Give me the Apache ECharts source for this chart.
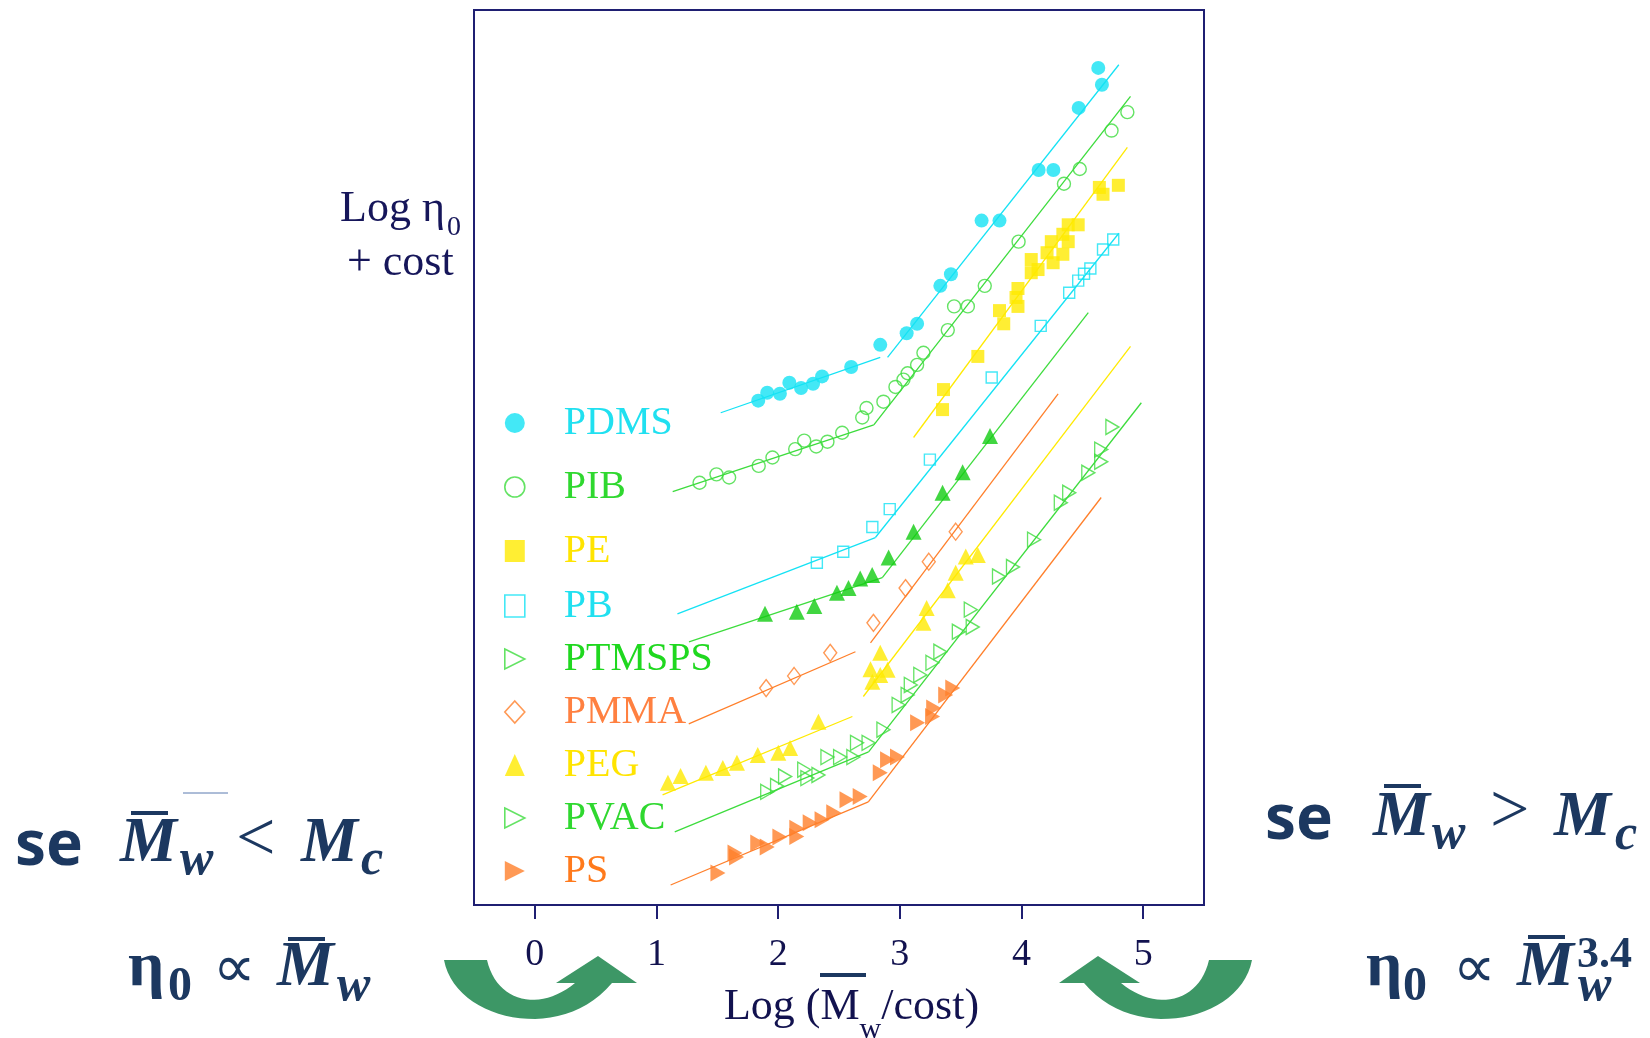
<!DOCTYPE html>
<html>
<head>
<meta charset="utf-8">
<title>Log η0 – Log Mw</title>
<script src="https://cdn.jsdelivr.net/npm/echarts@6/dist/echarts.min.js"></script>
<style>
  html, body { margin: 0; padding: 0; background: #fff; }
  #chart { width: 1650px; height: 1038px; }
</style>
</head>
<body>
<div id="chart"></div>
<script>
// values: x = Log(Mw/cost), y = Log eta0 + cost (arbitrary units)
const polymers = ['PDMS', 'PIB', 'PE', 'PB', 'PTMSPS', 'PMMA', 'PEG', 'PVAC', 'PS'];
const xTicks = [0, 1, 2, 3, 4, 5];

const pdmsPoints = [[1.836,47.9],[1.910,48.65],[2.014,48.55],[2.092,49.6],[2.188,49.1],[2.287,49.5],[2.361,50.2],[2.600,51.1],[2.839,53.2],[3.056,54.3],[3.142,55.2],[3.333,58.8],[3.420,59.9],[3.672,65.0],[3.819,65.0],[4.141,69.8],[4.262,69.8],[4.470,75.7],[4.631,79.5],[4.661,77.9]];
const pibPoints = [[1.354,40.1],[1.493,40.9],[1.597,40.6],[1.840,41.7],[1.953,42.5],[2.140,43.3],[2.214,44.1],[2.313,43.55],[2.405,44.0],[2.526,44.85],[2.691,46.3],[2.726,47.2],[2.865,47.8],[2.964,49.2],[3.030,49.9],[3.064,50.5],[3.142,51.3],[3.194,52.45],[3.394,54.6],[3.446,56.85],[3.559,56.85],[3.698,58.8],[3.976,63.0],[4.349,68.5],[4.479,69.9],[4.740,73.55],[4.870,75.3]];
const pePoints = [[3.351,47.05],[3.359,48.95],[3.641,52.1],[3.819,56.45],[3.854,55.2],[3.955,57.7],[3.971,58.55],[3.971,56.85],[4.080,61.3],[4.080,60.05],[4.136,60.35],[4.210,61.95],[4.245,63.0],[4.260,61.0],[4.340,63.7],[4.340,61.8],[4.384,63.0],[4.384,64.6],[4.466,64.6],[4.640,68.15],[4.670,67.5],[4.796,68.35]];
const pbPoints = [[2.318,32.5],[2.535,33.55],[2.774,35.9],[2.917,37.6],[3.247,42.3],[3.755,50.1],[4.158,55.0],[4.392,58.15],[4.466,59.3],[4.514,59.95],[4.566,60.45],[4.670,62.25],[4.754,63.2]];
const ptmspsPoints = [[1.892,27.65],[2.153,27.85],[2.297,28.4],[2.483,29.65],[2.578,30.1],[2.674,31.0],[2.773,31.35],[2.908,33.0],[3.113,35.45],[3.351,39.15],[3.516,41.1],[3.741,44.55]];
const pmmaPoints = [[1.901,20.6],[2.131,21.75],[2.428,23.95],[2.783,26.8],[3.047,30.1],[3.238,32.6],[3.459,35.45]];
const pegPoints = [[1.094,11.6],[1.198,12.25],[1.406,12.55],[1.545,13.0],[1.661,13.5],[1.832,14.25],[2.001,14.45],[2.098,14.9],[2.331,17.4],[2.774,21.2],[2.759,22.4],[2.839,21.85],[2.899,22.35],[2.839,23.95],[3.194,26.8],[3.220,28.2],[3.394,29.9],[3.459,31.55],[3.542,33.1],[3.641,33.25]];
const pvacPoints = [[1.910,10.75],[1.991,11.3],[2.057,12.2],[2.214,12.85],[2.240,12.05],[2.331,12.35],[2.405,14.05],[2.509,14.05],[2.618,14.05],[2.648,15.4],[2.743,15.4],[2.865,16.65],[2.990,19.0],[3.064,19.95],[3.090,20.9],[3.168,21.85],[3.268,23.0],[3.333,24.05],[3.485,25.95],[3.599,26.4],[3.583,28.05],[3.815,31.2],[3.930,32.1],[4.103,34.7],[4.323,38.2],[4.392,39.15],[4.549,41.05],[4.655,42.1],[4.655,43.25],[4.747,45.4]];
const psPoints = [[1.505,3.05],[1.645,4.95],[1.658,4.55],[1.832,5.9],[1.910,5.5],[2.014,6.45],[2.153,7.3],[2.153,6.5],[2.263,7.8],[2.361,8.1],[2.457,8.75],[2.566,10.0],[2.674,10.3],[2.839,12.55],[2.899,13.8],[2.981,14.05],[3.146,17.3],[3.269,17.9],[3.278,18.7],[3.377,19.95],[3.435,20.6]];

// fitted straight segments (below / above Mc)
const pdmsFit = [[[1.528,46.75],[2.839,52.0]], [[2.899,52.0],[4.800,79.8]]];
const pibFit = [[[1.133,39.25],[2.786,45.6]], [[2.786,45.6],[4.896,76.8]]];
const peFit = [[[3.113,44.4],[4.870,71.95]]];
const pbFit = [[[1.172,27.65],[2.799,34.9]], [[2.799,34.9],[4.800,63.8]]];
const ptmspsFit = [[[1.267,25.0],[2.856,31.1]], [[2.856,31.1],[4.549,56.25]]];
const pmmaFit = [[[1.265,17.2],[2.635,24.05]], [[2.759,24.9],[4.301,48.55]]];
const pegFit = [[[1.050,10.45],[2.610,17.9]], [[2.700,19.8],[4.896,53.05]]];
const pvacFit = [[[1.150,6.95],[2.743,14.55]], [[2.743,14.55],[4.985,47.7]]];
const psFit = [[[1.116,1.9],[2.741,9.8]], [[2.741,9.8],[4.655,38.7]]];

const points = {PDMS: pdmsPoints, PIB: pibPoints, PE: pePoints, PB: pbPoints, PTMSPS: ptmspsPoints,
  PMMA: pmmaPoints, PEG: pegPoints, PVAC: pvacPoints, PS: psPoints};
const fits = {PDMS: pdmsFit, PIB: pibFit, PE: peFit, PB: pbFit, PTMSPS: ptmspsFit,
  PMMA: pmmaFit, PEG: pegFit, PVAC: pvacFit, PS: psFit};

const rightTri = 'path://M0,0L10,5L0,10Z';
const cyan = '#14e2f4', green = '#3ddc3d', deepGreen = '#12cc12', yellow = '#ffea00', orange = '#ff7f2a';
const looks = {
  PDMS:   {color: cyan, symbol: 'circle', size: 14, fill: true},
  PIB:    {color: green, symbol: 'circle', size: 13, fill: false},
  PE:     {color: yellow, symbol: 'rect', size: 13, fill: true},
  PB:     {color: cyan, symbol: 'rect', size: 11, fill: false},
  PTMSPS: {color: deepGreen, symbol: 'triangle', size: 16, fill: true, line: green,
           legendIcon: rightTri, legendFill: false, legendColor: green},
  PMMA:   {color: orange, symbol: 'diamond', size: [13, 17], fill: false},
  PEG:    {color: yellow, symbol: 'triangle', size: 16, fill: true},
  PVAC:   {color: green, symbol: rightTri, size: [13, 15], fill: false},
  PS:     {color: orange, symbol: rightTri, size: [15, 17], fill: true}
};
const textColors = {PDMS: '#20e0f0', PIB: '#2fd82f', PE: '#ffe400', PB: '#20e0f0', PTMSPS: '#1fd81f',
  PMMA: '#ff8040', PEG: '#ffe400', PVAC: '#2fd82f', PS: '#ff7a1c'};

const navy = '#1f1f72';
const ink = '#1c3860';
const serif = '"Liberation Serif", "Times New Roman", serif';

const series = [];
polymers.forEach(name => {
  const lk = looks[name];
  fits[name].forEach((seg, i) => {
    series.push({
      type: 'line', name: name + ' fit ' + i, data: seg, symbol: 'none', silent: true, z: 2,
      lineStyle: {color: lk.line || lk.color, width: 1.3}
    });
  });
  series.push({
    type: 'scatter', name: name, data: points[name], symbol: lk.symbol, symbolSize: lk.size, z: 3,
    itemStyle: lk.fill ? {color: lk.color} : {color: 'rgba(255,255,255,0)', borderColor: lk.color, borderWidth: 1.4}
  });
});

const legendItems = polymers.map(name => {
  const lk = looks[name];
  const fill = lk.legendFill !== undefined ? lk.legendFill : lk.fill;
  const col = lk.legendColor || lk.color;
  return {
    name: name,
    icon: lk.legendIcon || lk.symbol,
    itemStyle: fill ? {color: col, borderWidth: 0} : {color: '#ffffff', borderColor: col, borderWidth: 1.6},
    textStyle: {color: textColors[name]}
  };
});
const legendBase = {
  orient: 'vertical', left: 499, itemWidth: 20, itemHeight: 22, selectedMode: false,
  textStyle: {fontFamily: serif, fontSize: 40, lineHeight: 40, padding: [0, 0, 0, 34]}
};

// annotation helpers (slide text around the chart)
function tx(text, x, y, size, opts) {
  opts = opts || {};
  return {
    type: 'text', x: x, y: y, z: 10, silent: true,
    style: {
      text: text, fill: opts.fill || ink, fontSize: size,
      fontFamily: opts.family || serif, fontWeight: opts.weight || 'bold',
      fontStyle: opts.italic ? 'italic' : 'normal',
      align: 'left', verticalAlign: 'middle'
    }
  };
}
function bar(x, y, w) {
  return {type: 'rect', z: 10, silent: true, shape: {x: x, y: y, width: w, height: 4}, style: {fill: ink}};
}
function bez(p0, p1, p2, p3, n) {
  const out = [];
  for (let i = 0; i <= n; i++) {
    const t = i / n, u = 1 - t;
    out.push([
      u*u*u*p0[0] + 3*u*u*t*p1[0] + 3*u*t*t*p2[0] + t*t*t*p3[0],
      u*u*u*p0[1] + 3*u*u*t*p1[1] + 3*u*t*t*p2[1] + t*t*t*p3[1]
    ]);
  }
  return out;
}
const arrowLeft = [].concat(
  [[444, 960]],
  bez([487, 960], [497, 1003], [540, 1012], [575, 983], 24),
  [[556, 983], [598, 956], [637, 983], [612, 983]],
  bez([612, 983], [560, 1045], [455, 1020], [444, 960], 28)
);
const arrowRight = arrowLeft.map(p => [1696 - p[0], p[1]]);

const sans = '"Noto Sans", "DejaVu Sans", sans-serif';
const graphics = [
  // y-axis caption
  tx('Log η', 340, 209, 44, {weight: 'normal', fill: '#16165a'}),
  tx('0', 447, 228, 28, {weight: 'normal', fill: '#16165a'}),
  tx('+ cost', 347, 263, 44, {weight: 'normal', fill: '#16165a'}),
  // bar over M in x-axis title
  {type: 'rect', z: 10, silent: true, shape: {x: 820, y: 973, width: 46, height: 4}, style: {fill: ink}},
  // left: se Mw < Mc
  tx('se', 15, 847, 62, {family: sans}),
  tx('M', 120, 844, 64, {italic: true}),
  bar(131, 811, 37),
  {type: 'line', z: 10, silent: true, shape: {x1: 183, y1: 793, x2: 228, y2: 793}, style: {stroke: '#5b7bb0', lineWidth: 1}},
  tx('w', 180, 861, 50, {italic: true}),
  tx('<', 236, 842, 70, {weight: 'normal'}),
  tx('M', 301, 844, 64, {italic: true}),
  tx('c', 361, 861, 50, {italic: true}),
  // left: eta0 ~ Mw
  tx('η', 128, 968, 64),
  tx('0', 168, 988, 48),
  tx('∝', 213, 971, 60, {family: '"DejaVu Sans", sans-serif', weight: 'normal'}),
  tx('M', 277, 968, 64, {italic: true}),
  bar(288, 937, 37),
  tx('w', 337, 987, 50, {italic: true}),
  // right: se Mw > Mc
  tx('se', 1265, 821, 62, {family: sans}),
  tx('M', 1373, 818, 64, {italic: true}),
  bar(1384, 784, 37),
  tx('w', 1432, 835, 50, {italic: true}),
  tx('>', 1490, 814, 70, {weight: 'normal'}),
  tx('M', 1554, 818, 64, {italic: true}),
  tx('c', 1615, 836, 50, {italic: true}),
  // right: eta0 ~ Mw^3.4
  tx('η', 1366, 968, 64),
  tx('0', 1403, 988, 48),
  tx('∝', 1453, 971, 60, {family: '"DejaVu Sans", sans-serif', weight: 'normal'}),
  tx('M', 1517, 968, 64, {italic: true}),
  bar(1528, 935, 37),
  tx('3.4', 1577, 956, 44),
  tx('w', 1578, 987, 50, {italic: true}),
  // green curved arrows
  {type: 'polygon', z: 9, silent: true, shape: {points: arrowLeft}, style: {fill: '#3d9766'}},
  {type: 'polygon', z: 9, silent: true, shape: {points: arrowRight}, style: {fill: '#3d9766'}}
];

const chart = echarts.init(document.getElementById('chart'), null, {renderer: 'canvas'});
chart.setOption({
  animation: false,
  backgroundColor: '#ffffff',
  grid: {
    left: 474, right: 446, top: 10, bottom: 133, outerBoundsMode: 'none',
    show: true, borderColor: navy, borderWidth: 2, backgroundColor: 'transparent'
  },
  xAxis: {
    type: 'value', min: -0.5, max: 5.5,
    name: '{t|Log (M}{s|w}{t|/cost)}',
    nameLocation: 'middle', nameGap: 80,
    nameTextStyle: {
      padding: [0, 0, 0, 25],
      rich: {
        t: {fontFamily: serif, fontSize: 44, color: '#12124f', verticalAlign: 'bottom', padding: [0, 0, 16, 0]},
        s: {fontFamily: serif, fontSize: 30, color: '#12124f', verticalAlign: 'bottom'}
      }
    },
    axisLine: {show: true, lineStyle: {color: navy, width: 2}},
    axisTick: {show: true, inside: false, length: 14, lineStyle: {color: navy, width: 2}, customValues: xTicks},
    axisLabel: {customValues: xTicks, fontFamily: serif, fontSize: 38, color: '#12124f', margin: 31},
    splitLine: {show: false}
  },
  yAxis: {
    type: 'value', min: 0, max: 85,
    axisLine: {show: false}, axisTick: {show: false}, axisLabel: {show: false}, splitLine: {show: false}
  },
  legend: [
    Object.assign({}, legendBase, {data: legendItems.slice(0, 3), top: 398, itemGap: 24}),
    Object.assign({}, legendBase, {data: legendItems.slice(3), top: 581, itemGap: 13})
  ],
  graphic: {elements: graphics},
  series: series
});
</script>
</body>
</html>
